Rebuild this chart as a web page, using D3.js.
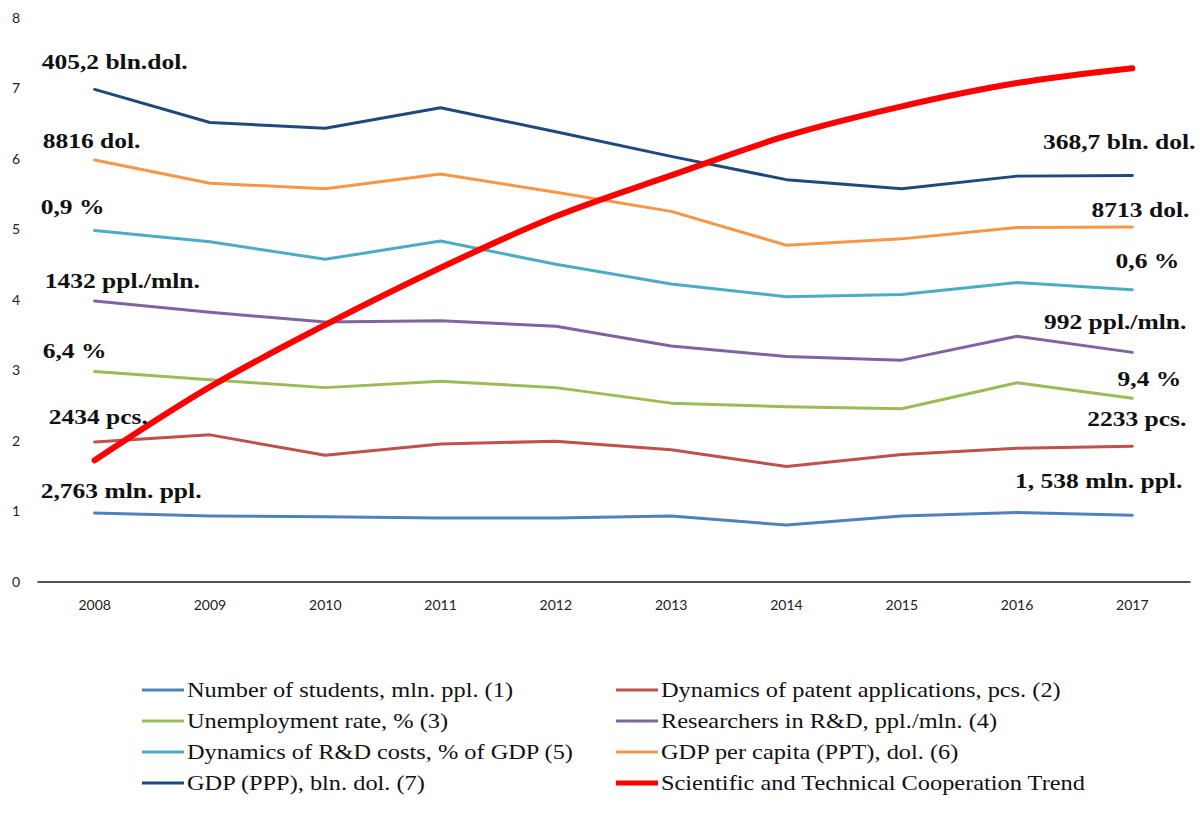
<!DOCTYPE html>
<html>
<head>
<meta charset="utf-8">
<script src="https://cdn.jsdelivr.net/npm/d3@7"></script>
<style>
  body { margin: 0; background: #fff; }
  .tick text { font-family: Lato, "Liberation Sans", sans-serif; font-size: 14px; fill: #222; }
  .valLabel { font-family: "Liberation Serif", "Times New Roman", serif; font-weight: bold; font-size: 22px; fill: #111; }
  .legText { font-family: "Liberation Serif", "Times New Roman", serif; font-size: 21px; fill: #111; }
</style>
</head>
<body>
<div id="chart"></div>
<script>
// years on the x axis
var years = [2008, 2009, 2010, 2011, 2012, 2013, 2014, 2015, 2016, 2017];

// y tick values
var yTicks = [0, 1, 2, 3, 4, 5, 6, 7, 8];

// series values (index scale)
var students = [0.97, 0.93, 0.92, 0.90, 0.90, 0.93, 0.80, 0.93, 0.98, 0.94];
var patents = [1.98, 2.08, 1.79, 1.95, 1.99, 1.87, 1.63, 1.80, 1.89, 1.92];
var unemployment = [2.98, 2.86, 2.75, 2.84, 2.75, 2.53, 2.48, 2.45, 2.82, 2.60];
var researchers = [3.98, 3.82, 3.68, 3.70, 3.62, 3.34, 3.19, 3.14, 3.48, 3.25];
var rdCosts = [4.98, 4.82, 4.57, 4.83, 4.50, 4.22, 4.04, 4.07, 4.24, 4.14];
var gdpPerCapita = [5.98, 5.65, 5.57, 5.78, 5.52, 5.25, 4.77, 4.86, 5.02, 5.03];
var gdpPPP = [6.98, 6.51, 6.43, 6.72, 6.38, 6.03, 5.70, 5.57, 5.75, 5.76];
var trend = [1.72, 2.76, 3.64, 4.45, 5.18, 5.76, 6.32, 6.74, 7.07, 7.28];

// legend names
var legendNames = [
  "Number of students, mln. ppl. (1)",
  "Dynamics of patent applications,  pcs. (2)",
  "Unemployment rate, % (3)",
  "Researchers in R&D, ppl./mln.  (4)",
  "Dynamics of R&D costs, % of GDP (5)",
  "GDP per capita (PPT), dol. (6)",
  "GDP (PPP), bln. dol. (7)",
  "Scientific and Technical  Cooperation Trend"
];

// labels at the start and end of each line
var startLabels = ["2,763 mln. ppl.", "2434 pcs.", "6,4 %", "1432 ppl./mln.", "0,9 %", "8816 dol.", "405,2 bln.dol."];
var endLabels = ["1, 538 mln. ppl.", "2233 pcs.", "9,4 %", "992 ppl./mln.", "0,6 %", "8713 dol.", "368,7 bln. dol."];

var colors = ["#4F81BD", "#C0504D", "#9BBB59", "#8064A2", "#4BACC6", "#F79646", "#1F497D", "#FF0000"];

var allSeries = [students, patents, unemployment, researchers, rdCosts, gdpPerCapita, gdpPPP, trend];

var width = 1204;
var height = 821;

var svg = d3.select("#chart")
  .append("svg")
  .attr("width", width)
  .attr("height", height);

// scales
var xScale = d3.scaleBand()
  .domain(years)
  .range([37, 1190])
  .padding(0);

function xMid(yr) {
  return xScale(yr) + xScale.bandwidth() / 2;
}

var yScale = d3.scaleLinear()
  .domain([0, 8])
  .range([581.5, 17.5]);

// x axis
var xAxis = d3.axisBottom(xScale).tickSize(0).tickPadding(19);
var gx = svg.append("g")
  .attr("transform", "translate(0," + yScale(0) + ")")
  .call(xAxis);
gx.select(".domain").attr("stroke", "#1a1a1a").attr("stroke-width", 1.6);

// y axis (labels only)
var yAxis = d3.axisLeft(yScale).tickValues(yTicks).tickSize(0).tickPadding(0);
var gy = svg.append("g")
  .attr("transform", "translate(20,0)")
  .call(yAxis);
gy.select(".domain").remove();
gy.selectAll("text").attr("dy", "0.35em");

// lines
var line = d3.line()
  .x(function(d, i) { return xMid(years[i]); })
  .y(function(d) { return yScale(d); });

var trendLine = d3.line()
  .x(function(d, i) { return xMid(years[i]); })
  .y(function(d) { return yScale(d); })
  .curve(d3.curveMonotoneX);

allSeries.forEach(function(s, k) {
  var isTrend = k === 7;
  svg.append("path")
    .datum(s)
    .attr("fill", "none")
    .attr("stroke", colors[k])
    .attr("stroke-width", isTrend ? 6 : 3)
    .attr("stroke-linecap", "round")
    .attr("stroke-linejoin", "round")
    .attr("d", isTrend ? trendLine : line);
});

// value labels: offsets from the first / last point
var startOff = [[-54, -15], [-46, -18], [-52, -13], [-50, -13], [-54, -16], [-52, -12], [-53, -20]];
var endOff = [[50, -27], [54, -20], [49, -12], [54, -23], [47, -22], [57, -10], [63, -26]];

startLabels.forEach(function(t, k) {
  var s = allSeries[k];
  var x0 = xMid(years[0]) + startOff[k][0];
  var y0 = yScale(s[0]) + startOff[k][1];
  svg.append("text")
    .attr("class", "valLabel")
    .attr("transform", "translate(" + x0 + "," + y0 + ") scale(1.16,1)")
    .text(t);
});

endLabels.forEach(function(t, k) {
  var s = allSeries[k];
  var x1 = xMid(years[years.length - 1]) + endOff[k][0];
  var y1 = yScale(s[s.length - 1]) + endOff[k][1];
  svg.append("text")
    .attr("class", "valLabel")
    .attr("text-anchor", "end")
    .attr("transform", "translate(" + x1 + "," + y1 + ") scale(1.16,1)")
    .text(t);
});

// legend
var legX = [142, 616];
var legY0 = 690;
var legStep = 31;

legendNames.forEach(function(name, k) {
  var col = k % 2;
  var row = Math.floor(k / 2);
  var lx = legX[col];
  var ly = legY0 + row * legStep;
  var g = svg.append("g").attr("transform", "translate(" + lx + "," + ly + ")");
  g.append("line")
    .attr("x1", 0)
    .attr("x2", 42)
    .attr("y1", 0)
    .attr("y2", 0)
    .attr("stroke", colors[k])
    .attr("stroke-width", k === 7 ? 5 : 3);
  g.append("text")
    .attr("class", "legText")
    .attr("transform", "translate(45,7) scale(1.16,1)")
    .text(name);
});
</script>
</body>
</html>
